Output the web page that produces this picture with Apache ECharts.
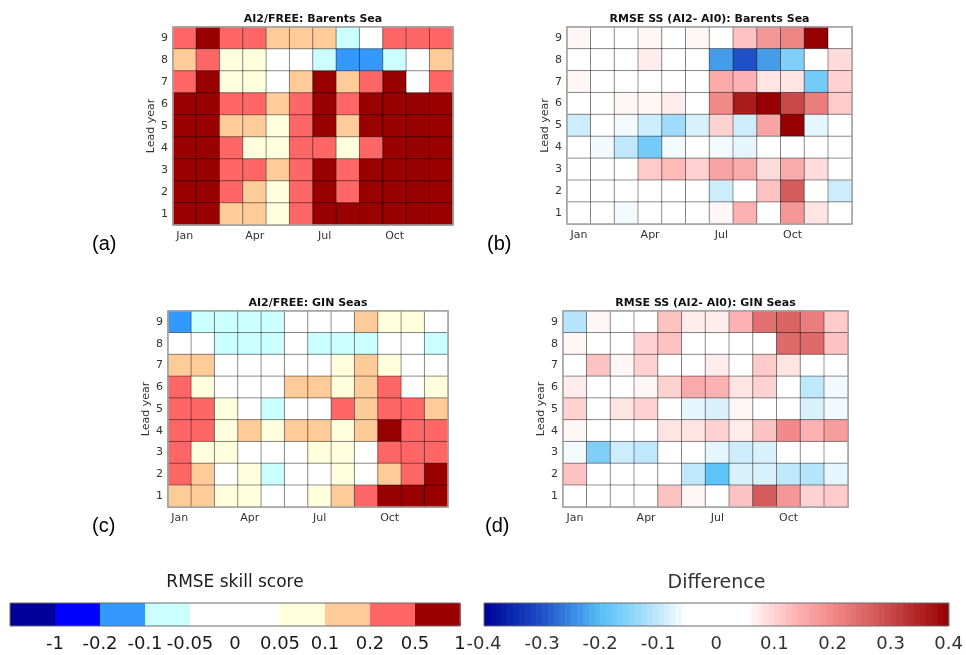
<!DOCTYPE html>
<html>
<head>
<meta charset="utf-8">
<script src="https://cdn.jsdelivr.net/npm/echarts@6/dist/echarts.min.js"></script>
<style>
  html, body { margin: 0; padding: 0; background: #ffffff; }
  #chart { width: 966px; height: 655px; }
</style>
</head>
<body>
<div id="chart"></div>
<script>
// ---- data -------------------------------------------------------------
const months = ['Jan', 'Feb', 'Mar', 'Apr', 'May', 'Jun', 'Jul', 'Aug', 'Sep', 'Oct', 'Nov', 'Dec'];
const leadYears = ['1', '2', '3', '4', '5', '6', '7', '8', '9'];

// RMSE skill score AI2 vs FREE; each row is one lead year, from 9 (top) down to 1
const ssBarents = [
  [0.3, 0.7, 0.3, 0.3, 0.15, 0.15, 0.15, -0.07, 0, 0.3, 0.3, 0.3],
  [0.15, 0.3, 0.07, 0.07, 0, 0, -0.07, -0.15, -0.15, -0.07, 0, 0.15],
  [0.3, 0.7, 0.07, 0.07, 0, 0.15, 0.7, 0.15, 0.3, 0.7, 0, 0.3],
  [0.7, 0.7, 0.3, 0.3, 0.15, 0.3, 0.7, 0.3, 0.7, 0.7, 0.7, 0.7],
  [0.7, 0.7, 0.15, 0.15, 0.07, 0.3, 0.7, 0.15, 0.7, 0.7, 0.7, 0.7],
  [0.7, 0.7, 0.3, 0.07, 0.07, 0.3, 0.3, 0.07, 0.3, 0.7, 0.7, 0.7],
  [0.7, 0.7, 0.3, 0.3, 0.15, 0.3, 0.7, 0.3, 0.7, 0.7, 0.7, 0.7],
  [0.7, 0.7, 0.3, 0.15, 0.07, 0.3, 0.7, 0.3, 0.7, 0.7, 0.7, 0.7],
  [0.7, 0.7, 0.15, 0.15, 0.07, 0.3, 0.7, 0.7, 0.7, 0.7, 0.7, 0.7]
];
const ssGin = [
  [-0.15, -0.07, -0.07, -0.07, -0.07, 0, 0, 0, 0.15, 0.07, 0.07, 0],
  [0, 0, -0.07, -0.07, -0.07, 0, -0.07, -0.07, -0.07, 0, 0, -0.07],
  [0.15, 0.15, 0, 0, 0, 0, 0, 0.07, 0.15, 0.07, 0, 0],
  [0.3, 0.07, 0, 0, 0, 0.15, 0.15, 0.07, 0.15, 0.3, 0, 0.07],
  [0.3, 0.3, 0.07, 0, -0.07, 0, 0, 0.3, 0.15, 0.3, 0.3, 0.15],
  [0.3, 0.3, 0.07, 0.15, 0.07, 0.15, 0.15, 0.07, 0.15, 0.7, 0.3, 0.3],
  [0.3, 0.07, 0.07, 0, 0, 0, 0.07, 0.07, 0, 0.3, 0.3, 0.3],
  [0.3, 0.15, 0, 0.07, -0.07, 0, 0, 0.07, 0, 0.15, 0.3, 0.7],
  [0.15, 0.15, 0.07, 0.07, 0, 0, 0.07, 0.15, 0.3, 0.7, 0.7, 0.7]
];

// RMSE skill score difference AI2 - AI0; rows from lead year 9 down to 1
const diffBarents = [
  [0.06, 0, 0, 0.06, 0, 0.06, 0, 0.12, 0.18, 0.21, 0.4, 0],
  [0, 0, 0, 0.07, 0, 0, -0.23, -0.3, -0.23, -0.16, 0, 0.09],
  [0.06, 0, 0, 0, 0, 0, 0.15, 0.14, 0.08, 0.08, -0.17, 0.1],
  [0, 0, 0.06, 0.06, 0.07, 0, 0.2, 0.36, 0.4, 0.3, 0.22, 0.11],
  [-0.09, 0, -0.06, -0.09, -0.13, -0.08, 0.1, -0.09, 0.16, 0.4, -0.07, 0],
  [0, -0.06, -0.1, -0.17, -0.06, 0, -0.06, -0.07, 0, 0, 0, 0],
  [0, 0, 0, 0.11, 0.13, 0.1, 0.16, 0.15, 0.09, 0.15, 0.09, 0],
  [0, 0, 0, 0, 0, 0, -0.09, 0, 0.12, 0.27, 0, -0.09],
  [0, 0, -0.06, 0, 0, 0, 0.06, 0.14, 0, 0.18, 0.08, 0]
];
const diffGin = [
  [-0.11, 0.06, 0, 0, 0.12, 0.07, 0.07, 0.14, 0.24, 0.26, 0.22, 0.11],
  [0.06, 0, 0, 0.1, 0.12, 0, 0, 0, 0, 0.25, 0.25, 0.12],
  [0, 0.12, 0.06, 0.1, 0, 0, 0.07, 0, 0.11, 0.08, 0, 0],
  [0.07, 0, 0, 0.06, 0.1, 0.15, 0.14, 0.08, 0.1, 0, -0.1, -0.06],
  [0.1, 0, 0.08, 0.1, 0, -0.07, -0.08, 0.06, 0, 0, -0.08, -0.06],
  [0.06, 0, 0, 0, 0.08, 0.08, 0.1, 0.07, 0.12, 0.2, 0.14, 0.17],
  [-0.06, -0.16, -0.09, -0.1, 0, 0, -0.07, -0.09, -0.08, 0, 0, 0],
  [0.12, 0, 0, 0, 0, -0.1, -0.19, -0.08, -0.08, -0.1, -0.11, -0.07],
  [0, 0, 0, 0, 0.12, 0.06, 0, 0.12, 0.27, 0.18, 0.1, 0.11]
];

// Skill score classes: boundaries, tick labels and colours
const ssBounds = [-2, -1, -0.2, -0.1, -0.05, 0, 0.05, 0.1, 0.2, 0.5, 1];
const ssTickLabels = ['', '-1', '-0.2', '-0.1', '-0.05', '0', '0.05', '0.1', '0.2', '0.5', '1'];
const ssColors = ['#000099', '#0000ff', '#3399ff', '#ccffff', '#ffffff',
                  '#ffffff', '#ffffdd', '#ffcc99', '#ff6666', '#990000'];

// Difference colour scale, stops every 0.05 from -0.4 to 0.4
const diffMin = -0.4, diffMax = 0.4;
const diffColors = ['#000096', '#0a28b0', '#1f50c8', '#3a86e2', '#56bff6', '#8ad3fa',
                    '#c0e8fc', '#ffffff', '#ffffff', '#ffffff', '#ffd2d2', '#fbaaaa',
                    '#f28a8a', '#de6a6a', '#c84848', '#b02222', '#960000'];

// ---- layout ------------------------------------------------------------
const panels = [
  { title: 'AI2/FREE: Barents Sea',        tag: '(a)', data: ssBarents,   kind: 'ss',   left: 173, top: 27,  width: 280, height: 198, tagX: 92,  tagY: 244 },
  { title: 'RMSE SS (AI2- AI0): Barents Sea', tag: '(b)', data: diffBarents, kind: 'diff', left: 567, top: 27,  width: 285, height: 197, tagX: 487, tagY: 244 },
  { title: 'AI2/FREE: GIN Seas',           tag: '(c)', data: ssGin,       kind: 'ss',   left: 168, top: 311, width: 280, height: 196, tagX: 92,  tagY: 526 },
  { title: 'RMSE SS (AI2- AI0): GIN Seas',   tag: '(d)', data: diffGin,     kind: 'diff', left: 563, top: 311, width: 285, height: 196, tagX: 485, tagY: 526 }
];
const bars = [
  { title: 'RMSE skill score', left: 10,  top: 603, width: 450, height: 23, titleSize: 17, titleColor: '#1a1a1a' },
  { title: 'Difference',       left: 484, top: 603, width: 465, height: 23, titleSize: 19, titleColor: '#333333' }
];

const FONT = '"DejaVu Sans", sans-serif';

function toCells(rows) {
  const out = [];
  rows.forEach((row, r) => {
    row.forEach((v, c) => out.push([c, leadYears.length - 1 - r, v]));
  });
  return out;
}

const grid = [], xAxis = [], yAxis = [], series = [], graphic = [];

panels.forEach((p, i) => {
  grid.push({
    left: p.left, top: p.top, width: p.width, height: p.height,
    show: true, z: 10, backgroundColor: 'rgba(0,0,0,0)',
    borderColor: '#a8a8a8', borderWidth: 1.5
  });
  xAxis.push({
    type: 'category', gridIndex: i, data: months,
    axisLine: { show: false }, axisTick: { show: false }, splitLine: { show: false },
    axisLabel: { interval: 2, fontSize: 11, color: '#333', fontFamily: FONT, margin: 6 }
  });
  yAxis.push({
    type: 'category', gridIndex: i, data: leadYears,
    name: 'Lead year', nameLocation: 'middle', nameGap: 15,
    nameTextStyle: { fontSize: 11, color: '#333', fontFamily: FONT },
    axisLine: { show: false }, axisTick: { show: false }, splitLine: { show: false },
    axisLabel: { fontSize: 11, color: '#333', fontFamily: FONT, margin: 5 }
  });
  series.push({
    type: 'heatmap', xAxisIndex: i, yAxisIndex: i,
    data: toCells(p.data),
    itemStyle: { borderColor: 'rgba(0,0,0,0.42)', borderWidth: 1 },
    emphasis: { disabled: true }
  });
  graphic.push({
    type: 'text', x: p.left + p.width / 2, y: p.top - 8,
    style: { text: p.title, align: 'center', verticalAlign: 'middle', textAlign: 'center', textVerticalAlign: 'middle',
             font: 'bold 11px ' + FONT, fill: '#111' }
  });
  graphic.push({
    type: 'text', x: p.tagX, y: p.tagY,
    style: { text: p.tag, align: 'left', verticalAlign: 'middle', textAlign: 'left', textVerticalAlign: 'middle',
             font: '20px "Liberation Sans", Arial, sans-serif', fill: '#000' }
  });
});

// colour bars
bars.forEach((b, k) => {
  const gi = panels.length + k;
  grid.push({
    left: b.left, top: b.top, width: b.width, height: b.height,
    show: true, z: 10, backgroundColor: 'rgba(0,0,0,0)',
    borderColor: '#6a6a6a', borderWidth: 1
  });
  yAxis.push({ type: 'value', gridIndex: gi, min: 0, max: 1, show: false });
  graphic.push({
    type: 'text', x: b.left + b.width / 2, y: b.top - 20,
    style: { text: b.title, align: 'center', verticalAlign: 'middle', textAlign: 'center', textVerticalAlign: 'middle',
             font: b.titleSize + 'px ' + FONT, fill: b.titleColor }
  });
});

xAxis.push({
  type: 'value', gridIndex: 4, min: 0, max: ssColors.length, interval: 1,
  axisLine: { show: false }, splitLine: { show: false },
  axisTick: { show: true, inside: true, length: 4, lineStyle: { color: '#555' } },
  axisLabel: { fontSize: 18, color: '#1a1a1a', fontFamily: FONT, margin: 9,
               formatter: v => ssTickLabels[Math.round(v)] }
});
xAxis.push({
  type: 'value', gridIndex: 5, min: diffMin, max: diffMax, interval: 0.1,
  axisLine: { show: false }, splitLine: { show: false },
  axisTick: { show: true, inside: true, length: 4, lineStyle: { color: '#666' } },
  axisLabel: { fontSize: 18, color: '#333', fontFamily: FONT, margin: 9,
               formatter: v => (Math.abs(v) < 1e-9 ? '0' : v.toFixed(1)) }
});

function barRect(params, api) {
  const a = api.coord([api.value(0), 0]);
  const b = api.coord([api.value(1), 1]);
  return {
    type: 'rect',
    shape: { x: a[0], y: b[1], width: b[0] - a[0] + 0.6, height: a[1] - b[1] },
    style: { fill: api.visual('color') }
  };
}

// skill score bar: one block per class
const ssBarData = ssColors.map((_, i) => [i, i + 1, (ssBounds[i] + ssBounds[i + 1]) / 2]);
series.push({ type: 'custom', xAxisIndex: 4, yAxisIndex: 4, data: ssBarData, renderItem: barRect, silent: true });

// difference bar: thin steps along the continuous scale
const diffStep = 0.01;
const diffBarData = [];
for (let k = 0; k < Math.round((diffMax - diffMin) / diffStep); k++) {
  const x0 = diffMin + k * diffStep;
  diffBarData.push([x0, x0 + diffStep, x0 + diffStep / 2]);
}
series.push({ type: 'custom', xAxisIndex: 5, yAxisIndex: 5, data: diffBarData, renderItem: barRect, silent: true });

const ssPieces = ssColors.map((c, i) => {
  const piece = { color: c };
  if (i > 0) piece.gte = ssBounds[i];
  if (i < ssColors.length - 1) piece.lt = ssBounds[i + 1]; else piece.lte = ssBounds[i + 1];
  return piece;
});

const option = {
  backgroundColor: '#ffffff',
  animation: false,
  grid, xAxis, yAxis, series, graphic,
  visualMap: [
    { type: 'piecewise', show: false, dimension: 2, seriesIndex: [0, 2, 4], pieces: ssPieces },
    { type: 'continuous', show: false, dimension: 2, seriesIndex: [1, 3, 5], min: diffMin, max: diffMax,
      inRange: { color: diffColors } }
  ]
};

const chart = echarts.init(document.getElementById('chart'), null, { renderer: 'canvas' });
chart.setOption(option);
</script>
</body>
</html>
